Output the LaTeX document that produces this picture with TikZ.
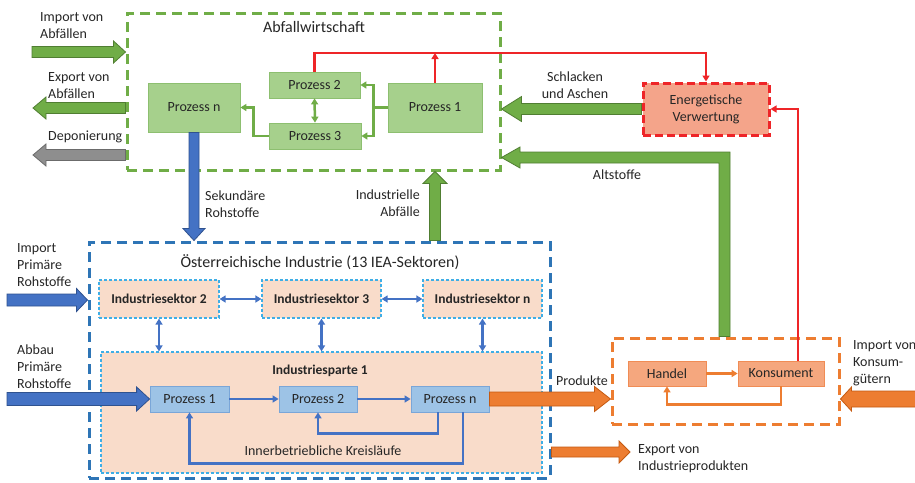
\documentclass[tikz,border=0pt]{standalone}
\usepackage{fontspec}
\setmainfont{Carlito}
\usetikzlibrary{calc,arrows.meta}
\definecolor{txt}{HTML}{262626}
\definecolor{gproF}{HTML}{A6D08C}
\definecolor{gproB}{HTML}{8DBF70}
\definecolor{gC}{HTML}{70AD47}
\definecolor{gB}{HTML}{507E32}
\definecolor{bC}{HTML}{4472C4}
\definecolor{bB}{HTML}{2F528F}
\definecolor{bDash}{HTML}{2E75B6}
\definecolor{ltblue}{HTML}{3FAEE6}
\definecolor{peach}{HTML}{F9DCCA}
\definecolor{bproF}{HTML}{9DC3E6}
\definecolor{bproB}{HTML}{7AA6D8}
\definecolor{oC}{HTML}{ED7D31}
\definecolor{oB}{HTML}{C55A11}
\definecolor{oproF}{HTML}{F5A77E}
\definecolor{oproB}{HTML}{F08C55}
\definecolor{rC}{HTML}{EE2528}
\definecolor{evF}{HTML}{F4A48A}
\definecolor{grF}{HTML}{8E8E8E}
\definecolor{grB}{HTML}{6B6B6B}
\newcommand\blockarr[6]{%
  \coordinate (bah) at ($(#3)!#6!(#2)$);
  \draw[#1] ($(#2)!#4!90:(#3)$) -- ($(bah)!#4!90:(#3)$) -- ($(bah)!#5!90:(#3)$)
    -- (#3) -- ($(bah)!#5!-90:(#3)$) -- ($(bah)!#4!-90:(#3)$) -- ($(#2)!#4!-90:(#3)$) -- cycle;
}
\begin{document}
\begin{tikzpicture}[x=1pt,y=-1pt,
  lbl/.style={font=\fontsize{14}{17}\selectfont, text=txt, inner sep=0pt},
  ttl/.style={font=\fontsize{16}{19}\selectfont, text=txt, inner sep=0pt},
  gproc/.style={draw=gproB, fill=gproF, line width=0.8pt, font=\fontsize{14}{17}\selectfont, text=txt, inner sep=0pt},
  bproc/.style={draw=bproB, fill=bproF, line width=0.8pt, font=\fontsize{14}{17}\selectfont, text=txt, inner sep=0pt},
  oproc/.style={draw=oproB, fill=oproF, line width=0.8pt, font=\fontsize{14}{17}\selectfont, text=txt, inner sep=0pt},
  sekt/.style={draw=ltblue, fill=peach, line width=1.2pt, dash pattern=on 3pt off 2pt, font=\bfseries\fontsize{13.5}{16}\selectfont, text=txt, inner sep=0pt},
  gdash/.style={draw=gC, line width=3pt, dash pattern=on 10pt off 6pt, inner sep=0pt},
  bdash/.style={draw=bDash, line width=3pt, dash pattern=on 10pt off 6pt, inner sep=0pt},
  odash/.style={draw=oC, line width=3pt, dash pattern=on 10pt off 6pt, inner sep=0pt},
  evbox/.style={draw=rC, fill=evF, line width=3pt, dash pattern=on 8pt off 4pt, font=\fontsize{14}{17}\selectfont, text=txt, align=center, inner sep=0pt},
  garr/.style={draw=gB, fill=gC, line width=0.8pt},
  barr/.style={draw=bB, fill=bC, line width=0.8pt},
  oarr/.style={draw=oB, fill=oC, line width=0.8pt},
  grarr/.style={draw=grB, fill=grF, line width=0.8pt},
  gline/.style={draw=gC, line width=2.5pt},
  bline/.style={draw=bC, line width=2.5pt},
  oline/.style={draw=oC, line width=2.5pt},
  rline/.style={draw=rC, line width=2.5pt},
  tipone/.style={-{Triangle[length=6pt,width=7pt]}},
  tiptwo/.style={{Triangle[length=6pt,width=7pt]}-{Triangle[length=6pt,width=7pt]}}
]
\useasboundingbox (0,0) rectangle (915,482);
\clip (0,0) rectangle (915,482);
\fill[white] (0,0) rectangle (915,482);

% ---- containers
\node[gdash, minimum width=373pt, minimum height=157pt] (abf) at (313.5,91.5) {};
\node[bdash, minimum width=461pt, minimum height=236pt] (ind) at (319.5,360) {};
\node[odash, minimum width=227pt, minimum height=86pt] (ob) at (725.5,381) {};
\node[ttl] (abft) at (314,27) {Abfallwirtschaft};
\node[ttl] (indt) at (320,262) {Österreichische Industrie (13 IEA-Sektoren)};

% ---- Abfallwirtschaft
\node[gproc, minimum width=92pt, minimum height=49pt] (pna) at (194,107.5) {Prozess n};
\node[gproc, minimum width=91pt, minimum height=26pt] (p2a) at (314.5,85) {Prozess 2};
\node[gproc, minimum width=92pt, minimum height=26pt] (p3a) at (315,136) {Prozess 3};
\node[gproc, minimum width=94pt, minimum height=49pt] (p1a) at (435,107.5) {Prozess 1};
\node[evbox, minimum width=126pt, minimum height=52pt] (ev) at (706,109) {Energetische\\Verwertung};

\coordinate (gj) at ($(p1a.west)+(-14,0)$);
\draw[gline] (p1a.west) -- (gj);
\draw[gline, tipone] (gj) |- (p2a.east);
\draw[gline, tipone] (gj) |- (p3a.east);
\draw[gline, tiptwo] (p2a.south) -- (p3a.north);
\draw[gline, tipone] (p3a.west) -- ++(-15,0) |- (pna.east);

\coordinate (redY) at (0,53);
\draw[rline, tipone] (p2a.north) -- (p2a.north |- redY) -- (ev.north |- redY) -- (ev.north);
\draw[rline, tipone] (p1a.north) -- (p1a.north |- redY);

% ---- Industrie
\node[sekt, minimum width=120pt, minimum height=38pt] (s2) at (159,299) {Industriesektor 2};
\node[sekt, minimum width=119pt, minimum height=38pt] (s3) at (321.5,299) {Industriesektor 3};
\node[sekt, minimum width=119pt, minimum height=38pt] (sn) at (482.5,299) {Industriesektor n};
\node[sekt, minimum width=441pt, minimum height=121pt] (sp) at (321.5,412.5) {};
\node[lbl, font=\bfseries\fontsize{13.5}{16}\selectfont] (spt) at (320,371) {Industriesparte 1};

\draw[bline, tiptwo] (s2.east) -- (s3.west);
\draw[bline, tiptwo] (s3.east) -- (sn.west);
\draw[bline, tiptwo] (s2.south) -- (sp.north -| s2.south);
\draw[bline, tiptwo] (s3.south) -- (sp.north -| s3.south);
\draw[bline, tiptwo] (sn.south) -- (sp.north -| sn.south);

\node[bproc, minimum width=79pt, minimum height=26pt] (bp1) at (189.5,399) {Prozess 1};
\node[bproc, minimum width=78pt, minimum height=26pt] (bp2) at (318,399) {Prozess 2};
\node[bproc, minimum width=78pt, minimum height=26pt] (bpn) at (450,399) {Prozess n};
\draw[bline, tipone] (bp1.east) -- (bp2.west);
\draw[bline, tipone] (bp2.east) -- (bpn.west);
\draw[bline, tipone] ($(bpn.south)+(-12,0)$) -- ++(0,21) -| (bp2.south);
\draw[bline, tipone] ($(bpn.south)+(13,0)$) -- ++(0,51) -| (bp1.south);
\node[lbl] (ikl) at (323,451) {Innerbetriebliche Kreisläufe};

% ---- Handel / Konsument
\node[oproc, minimum width=78pt, minimum height=25pt] (ha) at (667,373.5) {Handel};
\node[oproc, minimum width=86pt, minimum height=25pt] (ko) at (781,373.5) {Konsument};
\draw[oline, tipone] (ha.east) -- (ko.west);
\draw[oline, tipone] (ko.south) -- ++(0,18) -| (ha.south);
\coordinate (kr) at ($(ko.north)+(17,0)$);
\draw[rline, tipone] (kr) |- (ev.east);

% ---- block arrows
\coordinate (impAs) at (32,52);
\coordinate (impAe) at (abf.west |- impAs);
\blockarr{garr}{impAs}{impAe}{5.5pt}{11pt}{12pt}
\coordinate (expAe) at (33,108);
\coordinate (expAs) at (abf.west |- expAe);
\blockarr{garr}{expAs}{expAe}{5.5pt}{11pt}{13pt}
\coordinate (depE) at (33,155);
\coordinate (depS) at (abf.west |- depE);
\blockarr{grarr}{depS}{depE}{5.5pt}{11pt}{13pt}
\coordinate (schE) at (abf.east |- ev.west);
\blockarr{garr}{ev.west}{schE}{5.5pt}{12.5pt}{20pt}
\draw[garr] (ob.north -| 730,0) -- (730,152) -- (520,152) -- (520,147) -- (abf.east |- 0,157.5)
  -- (520,168) -- (520,163) -- (719,163) -- (ob.north -| 719,0) -- cycle;
\coordinate (sekE) at (ind.north -| pna.south);
\blockarr{barr}{pna.south}{sekE}{5pt}{11pt}{12pt}
\coordinate (iaS) at (ind.north -| p1a.south);
\coordinate (iaE) at (abf.south -| p1a.south);
\blockarr{garr}{iaS}{iaE}{5.5pt}{12pt}{12pt}
\coordinate (ipS) at (7,300);
\coordinate (ipE) at (ind.west |- ipS);
\blockarr{barr}{ipS}{ipE}{6pt}{11.5pt}{11pt}
\coordinate (abS) at (7,399);
\blockarr{barr}{abS}{bp1.west}{6.5pt}{12pt}{13pt}
\coordinate (prE) at (ob.west |- bpn.east);
\blockarr{oarr}{bpn.east}{prE}{7pt}{12.5pt}{16pt}
\coordinate (eiE) at (630,452);
\coordinate (eiS) at (ind.east |- eiE);
\blockarr{oarr}{eiS}{eiE}{5pt}{11pt}{11pt}
\coordinate (ikS) at (925,399);
\coordinate (ikE) at (ob.east |- ikS);
\blockarr{oarr}{ikS}{ikE}{8pt}{12pt}{11pt}

% ---- labels
\node[lbl, align=left, anchor=west] (l1) at (40,25.5) {Import von\\Abfällen};
\node[lbl, align=left, anchor=west] (l2) at (48,85.5) {Export von\\Abfällen};
\node[lbl, anchor=west] (l3) at (48,137) {Deponierung};
\node[lbl, align=left, anchor=west] (l4) at (205,204.5) {Sekundäre\\Rohstoffe};
\node[lbl, align=right, anchor=east] (l5) at (420,203.5) {Industrielle\\Abfälle};
\node[lbl, align=center] (l6) at (575,85) {Schlacken\\und Aschen};
\node[lbl] (l7) at (617,175) {Altstoffe};
\node[lbl, align=left, anchor=west] (l8) at (17,265) {Import\\Primäre\\Rohstoffe};
\node[lbl, align=left, anchor=west] (l9) at (17,367) {Abbau\\Primäre\\Rohstoffe};
\node[lbl] (l10) at (582,381) {Produkte};
\node[lbl, align=left, anchor=west] (l11) at (638,458.5) {Export von\\Industrieprodukten};
\node[lbl, align=left, anchor=west] (l12) at (853,363.5) {Import von\\Konsum-\\gütern};
\end{tikzpicture}
\end{document}
